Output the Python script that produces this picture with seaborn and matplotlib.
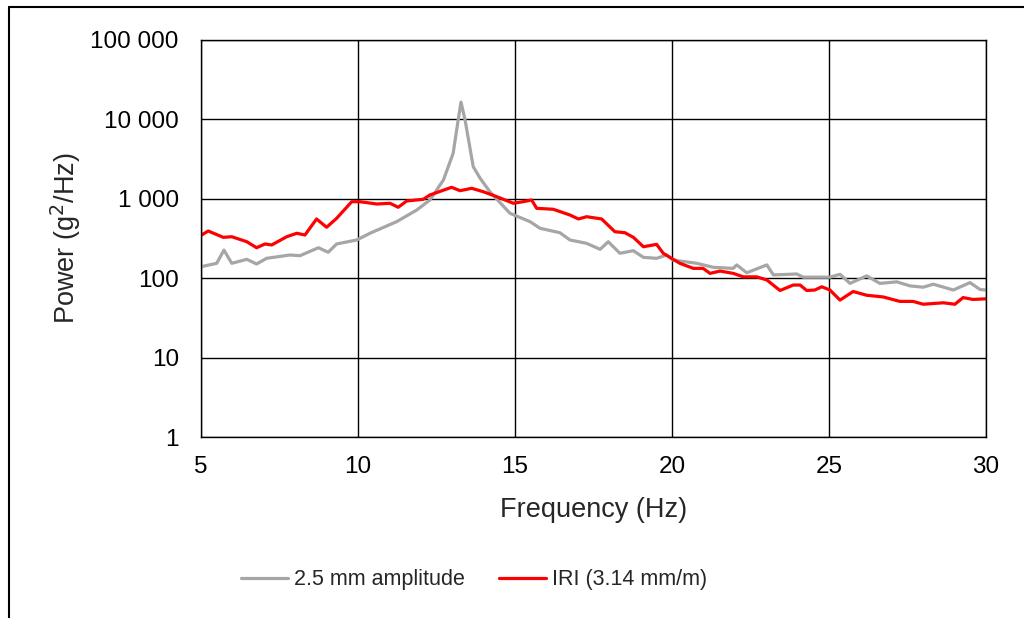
import matplotlib
matplotlib.use("Agg")
import matplotlib.pyplot as plt
from matplotlib.lines import Line2D
from matplotlib.ticker import FuncFormatter, FixedLocator, NullLocator
import numpy as np
import pandas as pd
import seaborn as sns

# Power spectral density, 2.5 mm amplitude excitation
freq_amp = [5.02, 5.50, 5.73, 5.98, 6.46, 6.77, 7.09, 7.83, 8.15, 8.74, 9.05, 9.32,
            9.96, 10.38, 11.23, 11.87, 12.29, 12.72, 13.03, 13.19, 13.28, 13.41,
            13.67, 13.89, 14.20, 14.84, 15.48, 15.80, 16.43, 16.75, 17.28, 17.71,
            17.97, 18.34, 18.77, 19.09, 19.51, 19.83, 20.04, 20.79, 21.32, 21.95,
            22.06, 22.38, 23.02, 23.23, 23.97, 24.18, 25.03, 25.35, 25.67, 26.20,
            26.62, 27.16, 27.58, 28.00, 28.32, 28.96, 29.49, 29.81, 30.00]
power_amp = [140, 154, 226, 154, 173, 151, 178, 196, 192, 242, 212, 270,
             303, 368, 515, 722, 966, 1725, 3740, 9820, 16500, 9820,
             2540, 1812, 1228, 657, 515, 425, 374, 303, 275, 231,
             288, 206, 222, 183, 178, 196, 169, 154, 137, 133,
             147, 117, 147, 110, 113, 103, 103, 112, 86, 107,
             86, 90, 80, 77, 84, 71, 88, 72, 71]

# Power spectral density, road profile IRI 3.14 mm/m
freq_iri = [5.02, 5.23, 5.71, 5.98, 6.46, 6.77, 7.04, 7.25, 7.73, 8.05, 8.31, 8.68,
            9.00, 9.32, 9.80, 10.06, 10.60, 11.02, 11.28, 11.55, 12.08, 12.29,
            12.98, 13.25, 13.62, 13.99, 14.42, 14.95, 15.26, 15.53, 15.69, 16.22,
            16.75, 17.02, 17.28, 17.76, 18.18, 18.50, 18.77, 19.09, 19.51, 19.72,
            20.25, 20.68, 20.99, 21.21, 21.53, 21.95, 22.27, 22.70, 23.02, 23.44,
            23.86, 24.08, 24.29, 24.55, 24.77, 25.03, 25.35, 25.77, 26.20, 26.73,
            27.26, 27.68, 28.00, 28.64, 29.01, 29.27, 29.59, 30.00]
power_iri = [350, 393, 327, 333, 288, 242, 270, 262, 333, 368, 350, 557,
             438, 568, 919, 919, 860, 878, 782, 938, 986, 1117,
             1396, 1265, 1356, 1228, 1063, 878, 919, 966, 759, 738,
             625, 557, 595, 557, 385, 374, 327, 249, 267, 206,
             154, 133, 133, 115, 123, 115, 104, 104, 95, 70,
             82, 82, 70, 71, 78, 71, 53, 68, 61, 58,
             51, 51, 47, 49, 47, 57, 54, 55]

series_names = ["2.5 mm amplitude", "IRI (3.14 mm/m)"]
series_colors = ["#A6A6A6", "#FF0000"]

x_ticks = [5, 10, 15, 20, 25, 30]
y_ticks = [1, 10, 100, 1000, 10000, 100000]

df = pd.concat([
    pd.DataFrame({"Frequency": freq_amp, "Power": power_amp, "Series": series_names[0]}),
    pd.DataFrame({"Frequency": freq_iri, "Power": power_iri, "Series": series_names[1]}),
], ignore_index=True)

sns.set_style("white")
plt.rcParams["font.family"] = ["Liberation Sans", "DejaVu Sans"]

fig = plt.figure(figsize=(10.24, 6.18), dpi=100)
ax = fig.add_axes([201 / 1024, 1 - 437 / 618, 785 / 1024, 397 / 618])

sns.lineplot(data=df, x="Frequency", y="Power", hue="Series",
             palette=dict(zip(series_names, series_colors)),
             linewidth=2.3, ax=ax, legend=False, sort=False)

ax.set_yscale("log")
ax.set_xlim(5, 30)
ax.set_ylim(1, 100000)
ax.xaxis.set_major_locator(FixedLocator(x_ticks))
ax.yaxis.set_major_locator(FixedLocator(y_ticks))
ax.yaxis.set_minor_locator(NullLocator())
ax.yaxis.set_major_formatter(FuncFormatter(lambda v, p: f"{int(round(v)):,}".replace(",", " ")))
ax.grid(True, color="black", linewidth=1.0)
ax.set_axisbelow(True)
for s in ax.spines.values():
    s.set_visible(True)
    s.set_color("black")
    s.set_linewidth(1.0)

ax.tick_params(axis="both", length=0, labelsize=17.5, colors="black")
ax.tick_params(axis="y", pad=16)
ax.tick_params(axis="x", pad=14)

ax.set_xlabel("Frequency (Hz)", fontsize=19.5)
ax.set_ylabel("Power (g$^2$/Hz)", fontsize=19.5)
ax.xaxis.set_label_coords(0.5, -0.152)
ax.yaxis.set_label_coords(-0.150, 0.5)

handles = [Line2D([0], [0], color=c, linewidth=2.3) for c in series_colors]
fig.legend(handles, series_names, loc="center", bbox_to_anchor=(474 / 1024, 1 - 580 / 618),
           ncol=2, frameon=False, fontsize=15.5, handlelength=2.2,
           handletextpad=0.25, columnspacing=1.6)

# outer chart frame
fig.add_artist(Line2D([9 / 1024, 9 / 1024], [0, 1 - 7 / 618], color="black",
                      linewidth=1.5, transform=fig.transFigure))
fig.add_artist(Line2D([9 / 1024, 1], [1 - 7 / 618, 1 - 7 / 618], color="black",
                      linewidth=1.5, transform=fig.transFigure))

fig.savefig("out.png", dpi=100, facecolor="white")
